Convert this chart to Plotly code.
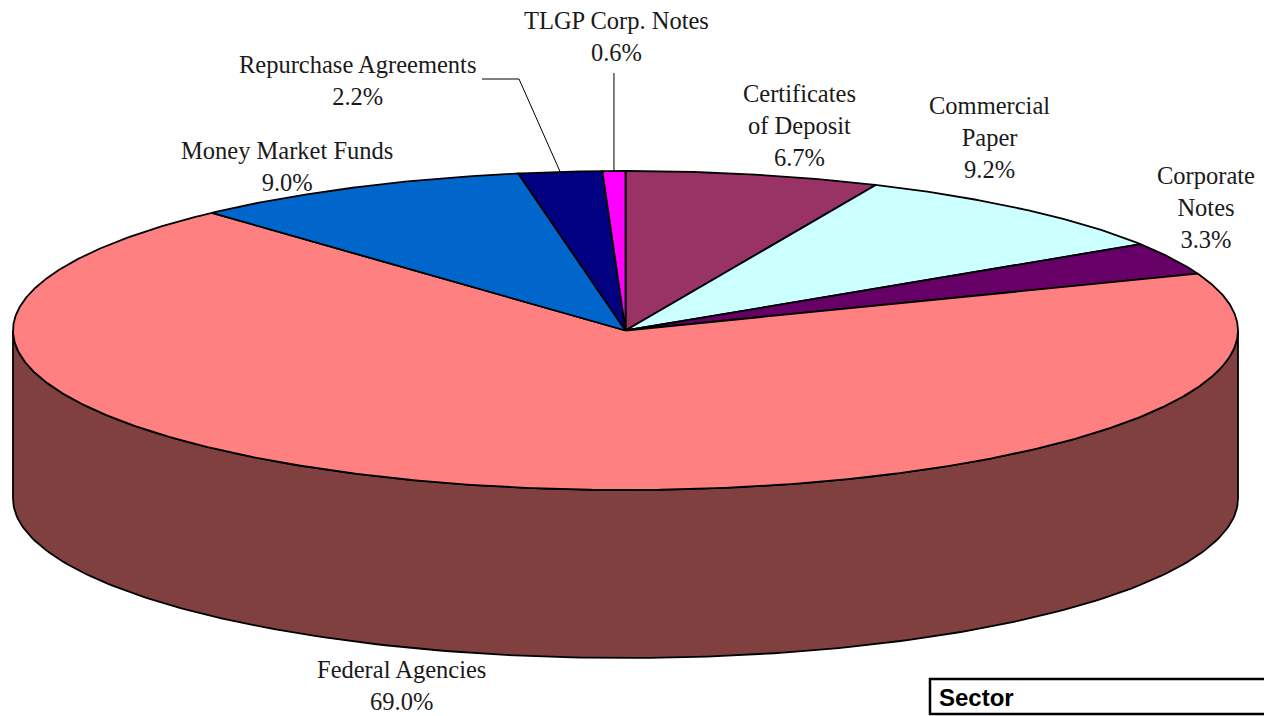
import numpy as np
import plotly.graph_objects as go

# ---- data ----
sectors = ["Certificates of Deposit", "Commercial Paper", "Corporate Notes",
           "Federal Agencies", "Money Market Funds", "Repurchase Agreements",
           "TLGP Corp. Notes"]
shares = [6.7, 9.2, 3.3, 69.0, 9.0, 2.2, 0.6]
label_text = ["Certificates<br>of Deposit", "Commercial<br>Paper", "Corporate<br>Notes",
              "Federal Agencies", "Money Market Funds", "Repurchase Agreements",
              "TLGP Corp. Notes"]
top_colors = ["#993366", "#CCFFFF", "#660066", "#FF8080", "#0066CC", "#000080", "#FF00FF"]
side_colors = ["#4d1a33", "#668080", "#330033", "#804040", "#003366", "#000040", "#800080"]

# ---- geometry (pixel space) ----
W, H = 1264, 716
CX, CY = 625.5, 330.5
RA, RB = 612.5, 159.5
DEPTH = 168

# label anchor positions (center of text block)
label_pos = [(799, 125), (989, 137), (1206, 207), (401, 685),
             (287, 166), (357, 80), (616, 36)]
leader = {5: (482, 79, 519), 6: (615, 73, None)}


def pt(t_deg, dy=0.0):
    t = np.radians(t_deg)
    return CX + RA * np.sin(t), CY - RB * np.cos(t) + dy


fig = go.Figure()

total = sum(shares)
angles = np.cumsum([0] + shares) / total * 360.0

# side walls (visible only for parametric angles 90..270)
for i in range(len(shares)):
    a0, a1 = max(angles[i], 90), min(angles[i + 1], 270)
    if a1 <= a0:
        continue
    ts = np.linspace(a0, a1, 200)
    xt, yt = pt(ts)
    xb, yb = pt(ts[::-1], DEPTH)
    fig.add_trace(go.Scatter(
        x=np.concatenate([xt, xb, xt[:1]]), y=np.concatenate([yt, yb, yt[:1]]),
        mode="lines", fill="toself", fillcolor=side_colors[i],
        line=dict(color="black", width=1.8), hoverinfo="skip", showlegend=False))

# top slices
for i in range(len(shares)):
    ts = np.linspace(angles[i], angles[i + 1], max(int((angles[i + 1] - angles[i]) * 3), 8))
    xs, ys = pt(ts)
    fig.add_trace(go.Scatter(
        x=np.concatenate([[CX], xs, [CX]]), y=np.concatenate([[CY], ys, [CY]]),
        mode="lines", fill="toself", fillcolor=top_colors[i],
        line=dict(color="black", width=1.8), hoverinfo="skip", showlegend=False))

# leader lines from label to slice mid-point
for i, (lx, ly, bend) in leader.items():
    mx, my = pt((angles[i] + angles[i + 1]) / 2)
    if bend is None:
        xs, ys = [mx, mx], [ly, my]
    else:
        xs, ys = [lx, bend, mx], [ly, ly, my]
    fig.add_trace(go.Scatter(x=xs, y=ys, mode="lines",
                             line=dict(color="black", width=1),
                             hoverinfo="skip", showlegend=False))

# labels
for i, name in enumerate(sectors):
    x, y = label_pos[i]
    fig.add_annotation(x=x, y=y, xref="x", yref="y", showarrow=False,
                       text=f"{label_text[i]}<br>{shares[i]:.1f}%",
                       font=dict(family="Liberation Serif, Times New Roman, serif",
                                 size=24.5, color="#1a1a1a"),
                       align="center", xanchor="center", yanchor="middle")

# "Sector" box
fig.add_shape(type="rect", x0=930, y0=679, x1=1275, y1=714,
              line=dict(color="black", width=2.5), fillcolor="white")
fig.add_annotation(x=937, y=697, xref="x", yref="y", showarrow=False,
                   text="<b>Sector</b>", xanchor="left", yanchor="middle",
                   font=dict(family="Liberation Sans, Arial, sans-serif", size=24, color="black"))

fig.update_layout(
    width=W, height=H, autosize=False,
    margin=dict(l=0, r=0, t=0, b=0, pad=0),
    paper_bgcolor="white", plot_bgcolor="white",
    xaxis=dict(range=[0, W], visible=False, fixedrange=True),
    yaxis=dict(range=[H, 0], visible=False, fixedrange=True),
    showlegend=False,
)

fig.write_html("out.html", config={"displayModeBar": False},
               post_script="document.body.style.margin='0';document.body.style.overflow='hidden';")
